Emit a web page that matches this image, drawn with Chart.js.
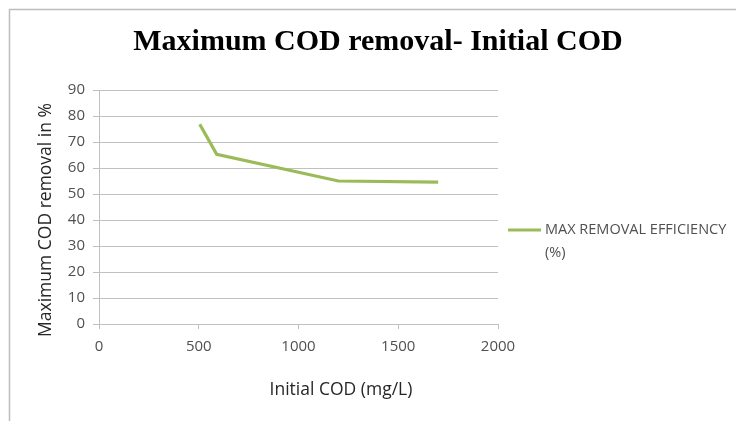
<!DOCTYPE html>
<html>
<head>
<meta charset="utf-8">
<script src="https://cdn.jsdelivr.net/npm/chart.js@4/dist/chart.umd.min.js"></script>
<style>
  html, body { margin: 0; padding: 0; background: #ffffff; }
  #wrap { width: 736px; height: 421px; position: relative; }
</style>
</head>
<body>
<div id="wrap"><canvas id="c"></canvas></div>
<script>
// Initial COD (mg/L) and maximum COD removal (%)
const initialCod = [505, 590, 1200, 1700];
const maxRemoval = [76.8, 65.3, 55.0, 54.6];
const seriesLabel = ['MAX REMOVAL EFFICIENCY', '(%)'];
const chartTitle = 'Maximum COD removal- Initial COD';
const xTitle = 'Initial COD (mg/L)';
const yTitle = 'Maximum COD removal in %';

const LINE_COLOR = '#9bbb59';
const GRID_COLOR = '#c0c0c0';
const TEXT_COLOR = '#505050';
const UI_FONT = '"Open Sans", "Liberation Sans", sans-serif';

// Frame, titles and legend drawn around the plot area
const decorations = {
  id: 'decorations',
  afterDraw(chart) {
    const ctx = chart.ctx;
    const a = chart.chartArea;
    ctx.save();
    // outer frame (left and top edges)
    ctx.strokeStyle = '#bdbdbd';
    ctx.lineWidth = 1.5;
    ctx.beginPath();
    ctx.moveTo(9.5, chart.height);
    ctx.lineTo(9.5, 9.5);
    ctx.lineTo(chart.width, 9.5);
    ctx.stroke();

    // main title
    ctx.fillStyle = '#000000';
    ctx.font = 'bold 30px "Liberation Serif", "Times New Roman", serif';
    ctx.textAlign = 'center';
    ctx.textBaseline = 'middle';
    ctx.fillText(chartTitle, 378, 42);

    // axis titles
    ctx.fillStyle = '#262626';
    ctx.font = '17.5px ' + UI_FONT;
    ctx.fillText(xTitle, a.left + 242, 390);
    ctx.save();
    ctx.translate(46, 220);
    ctx.rotate(-Math.PI / 2);
    ctx.fillText(yTitle, 0, 0);
    ctx.restore();

    // legend
    const lx = a.right + 10;
    const ly = 230;
    ctx.strokeStyle = LINE_COLOR;
    ctx.lineWidth = 3;
    ctx.beginPath();
    ctx.moveTo(lx, ly);
    ctx.lineTo(lx + 33, ly);
    ctx.stroke();
    ctx.fillStyle = TEXT_COLOR;
    ctx.font = '14.5px ' + UI_FONT;
    ctx.textAlign = 'left';
    seriesLabel.forEach((t, i) => ctx.fillText(t, lx + 37, ly + i * 23));
    ctx.restore();
  }
};

const plainTick = v => String(v);

new Chart(document.getElementById('c'), {
  type: 'line',
  data: {
    datasets: [{
      label: seriesLabel.join(' '),
      data: initialCod.map((x, i) => ({ x, y: maxRemoval[i] })),
      borderColor: LINE_COLOR,
      borderWidth: 3.2,
      pointRadius: 0,
      tension: 0,
      fill: false
    }]
  },
  options: {
    responsive: true,
    maintainAspectRatio: false,
    animation: false,
    layout: { padding: { left: 59, top: 90, right: 238, bottom: 67 } },
    plugins: {
      legend: { display: false },
      title: { display: false },
      tooltip: { enabled: false }
    },
    scales: {
      x: {
        type: 'linear',
        min: 0,
        max: 2000,
        ticks: { stepSize: 500, color: TEXT_COLOR, font: { family: UI_FONT, size: 15 }, padding: 9, maxRotation: 0, callback: plainTick },
        grid: { drawOnChartArea: false, drawTicks: true, tickLength: 5, color: GRID_COLOR },
        border: { color: GRID_COLOR, width: 1 },
        afterFit(scale) { scale.height = 30; }
      },
      y: {
        min: 0,
        max: 90,
        ticks: { stepSize: 10, color: TEXT_COLOR, font: { family: UI_FONT, size: 15 }, padding: 8, callback: plainTick },
        grid: { color: GRID_COLOR, lineWidth: 1, tickLength: 6 },
        border: { color: GRID_COLOR, width: 1 },
        afterFit(scale) { scale.width = 40; }
      }
    }
  },
  plugins: [decorations]
});
</script>
</body>
</html>
